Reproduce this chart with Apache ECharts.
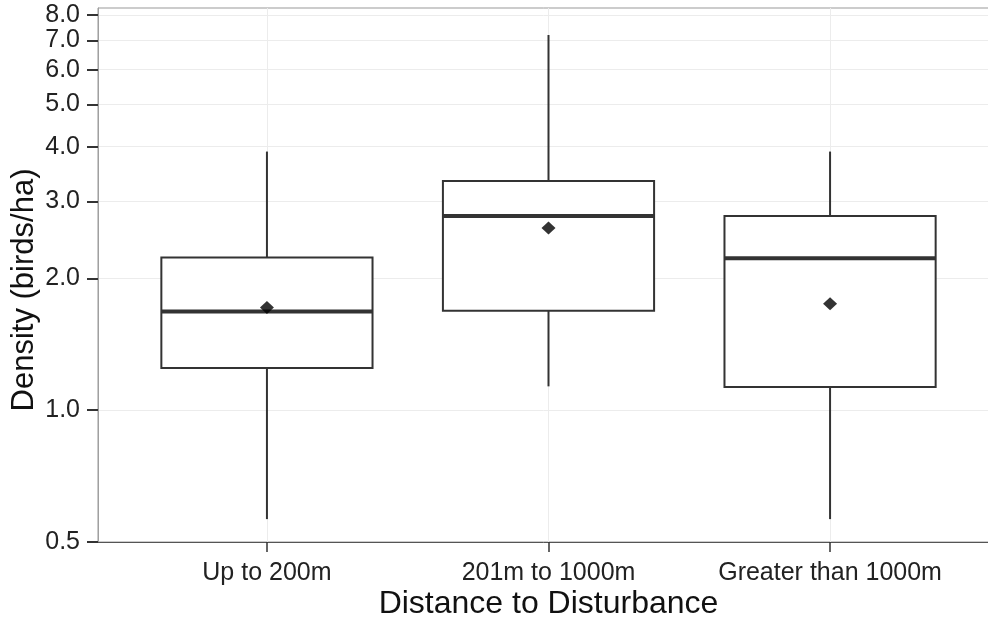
<!DOCTYPE html>
<html><head><meta charset="utf-8">
<script src="https://cdn.jsdelivr.net/npm/echarts@6/dist/echarts.min.js"></script>
<style>html,body{margin:0;padding:0;background:#fff}#c{width:988px;height:618px}</style>
</head><body><div id="c"></div>
<script>
// ---- data ----
const categories = ['Up to 200m', '201m to 1000m', 'Greater than 1000m'];
const whiskerLow = [0.564, 1.134, 0.564];
const q1 = [1.249, 1.688, 1.130];
const median = [1.682, 2.78, 2.225];
const q3 = [2.233, 3.34, 2.78];
const whiskerHigh = [3.90, 7.20, 3.90];
const means = [1.717, 2.61, 1.751];
const yTicks = [0.5, 1, 2, 3, 4, 5, 6, 7, 8];
const yMin = 0.5, yMax = 8.3;

// log2 scale transform
const L = Math.log2;
const boxData = categories.map((c, i) => [i + 1, L(whiskerLow[i]), L(q1[i]), L(median[i]), L(q3[i]), L(whiskerHigh[i])]);
const meanData = categories.map((c, i) => [i + 1, L(means[i])]);

const FONT = 'Liberation Sans, Arial, Helvetica, sans-serif';
const chart = echarts.init(document.getElementById('c'), null, {renderer: 'canvas'});
chart.setOption({
  animation: false,
  backgroundColor: '#fff',
  textStyle: {fontFamily: FONT},
  grid: {left: 98, top: 8, width: 901, height: 534, containLabel: false, outerBoundsMode: 'none',
         show: true, borderColor: '#999', borderWidth: 1, backgroundColor: '#fff'},
  xAxis: {
    type: 'value', min: 0.4, max: 3.6,
    axisLine: {show: true, onZero: false, lineStyle: {color: '#555', width: 1}},
    axisTick: {show: true, customValues: [1, 2, 3], length: 10, lineStyle: {color: '#333', width: 1.5}},
    axisLabel: {customValues: [1, 2, 3], formatter: v => categories[Math.round(v) - 1], fontSize: 25, color: '#222', margin: 19, fontFamily: FONT, hideOverlap: false},
    splitLine: {show: true, lineStyle: {color: '#ececec', width: 1}},
    name: 'Distance to Disturbance', nameLocation: 'middle', nameGap: 46, nameMoveOverlap: false,
    nameTextStyle: {fontSize: 32, color: '#111', fontFamily: FONT}
  },
  yAxis: {
    type: 'value', min: L(yMin), max: L(yMax),
    axisLine: {show: true, onZero: false, lineStyle: {color: '#a0a0a0', width: 1}},
    axisTick: {show: true, customValues: yTicks.map(L), length: 11, lineStyle: {color: '#333', width: 2}},
    axisLabel: {customValues: yTicks.map(L), formatter: v => Math.pow(2, v).toFixed(1), fontSize: 25, lineHeight: 22, color: '#222', margin: 18, fontFamily: FONT,
                hideOverlap: false, showMinLabel: true, showMaxLabel: true},
    splitLine: {show: true, lineStyle: {color: '#ececec', width: 1}},
    name: 'Density (birds/ha)', nameLocation: 'middle', nameGap: 58, nameMoveOverlap: false,
    nameTextStyle: {fontSize: 31, color: '#111', fontFamily: FONT, padding: [0, 30, 0, 0]}
  },
  series: [
    {
      type: 'custom',
      data: boxData,
      encode: {x: 0, y: [1, 2, 3, 4, 5]},
      renderItem: function (params, api) {
        const x = api.value(0);
        const pLow = api.coord([x, api.value(1)]);
        const pQ1 = api.coord([x, api.value(2)]);
        const pMed = api.coord([x, api.value(3)]);
        const pQ3 = api.coord([x, api.value(4)]);
        const pHigh = api.coord([x, api.value(5)]);
        const halfW = api.size([0.75, 0])[0] / 2;
        const stroke = '#333';
        return {
          type: 'group',
          children: [
            {type: 'line', shape: {x1: pHigh[0], y1: pHigh[1], x2: pQ3[0], y2: pQ3[1]}, style: {stroke: stroke, lineWidth: 2}},
            {type: 'line', shape: {x1: pLow[0], y1: pLow[1], x2: pQ1[0], y2: pQ1[1]}, style: {stroke: stroke, lineWidth: 2}},
            {type: 'rect', shape: {x: pQ3[0] - halfW, y: pQ3[1], width: halfW * 2, height: pQ1[1] - pQ3[1]}, style: {fill: '#fff', stroke: stroke, lineWidth: 2}},
            {type: 'line', shape: {x1: pMed[0] - halfW, y1: pMed[1], x2: pMed[0] + halfW, y2: pMed[1]}, style: {stroke: stroke, lineWidth: 4}}
          ]
        };
      },
      z: 2
    },
    {
      type: 'scatter',
      data: meanData,
      symbol: 'diamond',
      symbolSize: [14, 13],
      itemStyle: {color: '#000'},
      z: 3
    }
  ]
});
</script></body></html>
